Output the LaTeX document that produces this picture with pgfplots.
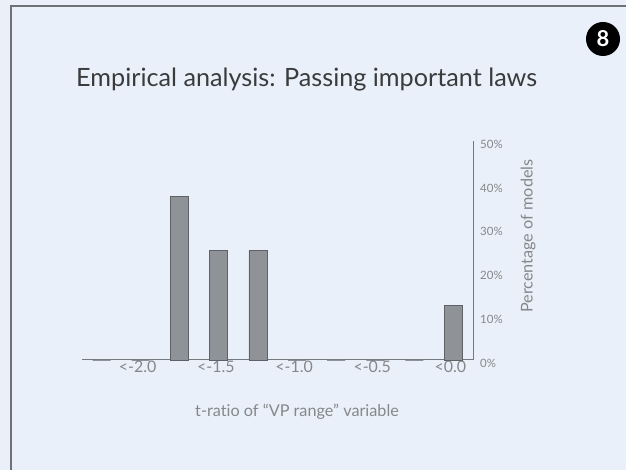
\documentclass[border=0pt]{standalone}
\usepackage{fontspec}
\setmainfont{Lato}[Ligatures={NoCommon}]
\usepackage{pgfplots}
\pgfplotsset{compat=1.18}
\definecolor{bg}{HTML}{EAF0F9}
\definecolor{frame}{HTML}{6E7277}
\definecolor{barfill}{HTML}{8F9297}
\definecolor{barline}{HTML}{5E6166}
\definecolor{axisline}{HTML}{75787C}
\definecolor{ticklab}{HTML}{85878A}
\definecolor{titlec}{HTML}{3A3B3D}
\pgfplotstableread{
idx val
0 0
1 0
2 37.5
3 25
4 25
5 0
6 0
7 0
8 0
9 12.5
}\datatable
\begin{document}
\begin{tikzpicture}[x=1bp,y=1bp]
\useasboundingbox (0,0) rectangle (626,470);
\fill[bg] (0,0) rectangle (626,470);
\draw[frame, line width=2.2bp] (626,464) -- (11,464) -- (11,0);
\node[anchor=base west, inner sep=0pt, text=titlec, font=\fontsize{25.3}{28}\selectfont] at (76,383) {Empirical analysis: Passing important laws};
\fill[black] (603,431) circle (17);
\node[text=white, font=\fontsize{22}{24}\selectfont\bfseries] at (603,431) {8};
\begin{axis}[
  at={(82bp,110bp)}, anchor=south west,
  scale only axis, width=391bp, height=218.5bp,
  xmin=-0.5, xmax=9.5, ymin=0, ymax=50,
  axis x line=bottom, axis y line=right,
  axis line style={-, draw=axisline, line width=1bp},
  major tick length=0pt,
  xtick={1,3,5,7,9},
  xticklabels={<-2.0,<-1.5,<-1.0,<-0.5,<0.0},
  ytick={0,10,20,30,40,50},
  yticklabel={\pgfmathprintnumber{\tick}\%},
  /pgf/number format/assume math mode=true,
  xticklabel style={anchor=north, inner sep=0pt, yshift=-1bp, xshift=-3bp, text=ticklab, font=\fontsize{16}{18}\selectfont},
  yticklabel style={anchor=west, inner sep=0pt, xshift=7bp, yshift=-3bp, text=ticklab, font=\fontsize{11.5}{13}\selectfont},
  xlabel={t-ratio of “VP range” variable},
  xlabel style={at={(axis description cs:0.55,0)}, anchor=center, yshift=-52bp, text=ticklab, font=\fontsize{16.3}{18}\selectfont},
  ylabel={Percentage of models},
  ylabel style={at={(axis description cs:1.141,0.567)}, anchor=center, text=ticklab, font=\fontsize{16.3}{18}\selectfont},
  clip=false,
]
\addplot[ybar, bar width=18bp, fill=barfill, draw=barline, line width=0.8bp] table[x=idx,y=val]{\datatable};
\end{axis}
\end{tikzpicture}
\end{document}
